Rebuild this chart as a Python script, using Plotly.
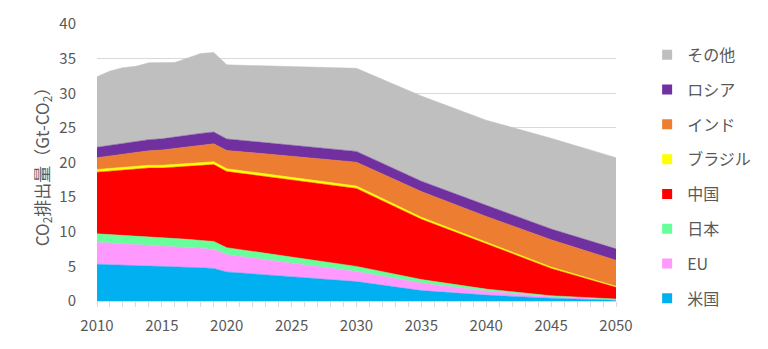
import plotly.graph_objects as go

years = [2010, 2011, 2012, 2013, 2014, 2015, 2016, 2017, 2018, 2019, 2020,
         2030, 2035, 2040, 2045, 2050]

# CO2 emissions by region (Gt-CO2), stacked bottom to top
us = [5.3, 5.25, 5.2, 5.15, 5.1, 5.0, 4.95, 4.9, 4.8, 4.7, 4.2, 2.8, 1.5, 0.85, 0.4, 0.12]
eu = [3.2, 3.15, 3.1, 3.05, 3.0, 2.95, 2.9, 2.85, 2.8, 2.75, 2.5, 1.45, 1.1, 0.6, 0.2, 0.1]
japan = [1.2, 1.2, 1.2, 1.2, 1.2, 1.15, 1.15, 1.15, 1.15, 1.15, 1.0, 0.75, 0.5, 0.27, 0.16, 0.06]
china = [8.9, 9.15, 9.4, 9.65, 9.9, 10.1, 10.35, 10.6, 10.85, 11.1, 11.0, 11.25, 8.7, 6.55, 3.94, 1.7]
brazil = [0.4, 0.4, 0.4, 0.4, 0.4, 0.4, 0.4, 0.4, 0.4, 0.4, 0.4, 0.35, 0.3, 0.25, 0.2, 0.15]
india = [1.7, 1.8, 1.9, 2.0, 2.1, 2.2, 2.3, 2.4, 2.5, 2.6, 2.65, 3.45, 3.7, 3.7, 3.95, 3.75]
russia = [1.5, 1.52, 1.55, 1.57, 1.6, 1.62, 1.65, 1.67, 1.7, 1.7, 1.65, 1.55, 1.5, 1.6, 1.55, 1.65]
others = [10.2, 10.73, 10.95, 10.88, 11.1, 10.98, 10.75, 11.13, 11.55, 11.5, 10.7,
          12.0, 12.3, 12.28, 13.1, 13.17]

series = [
    ("米国", us, "#00B0F0"),
    ("EU", eu, "#FF99FF"),
    ("日本", japan, "#66FF99"),
    ("中国", china, "#FF0000"),
    ("ブラジル", brazil, "#FFFF00"),
    ("インド", india, "#ED7D31"),
    ("ロシア", russia, "#7030A0"),
    ("その他", others, "#BFBFBF"),
]

FONT = "Noto Sans CJK JP, sans-serif"
TEXT = "#595959"
GRID = "#D9D9D9"

fig = go.Figure()

for name, vals, color in series:
    fig.add_trace(go.Scatter(
        x=years, y=vals, name=name, stackgroup="co2",
        mode="lines", line=dict(width=0.5, color=color),
        fillcolor=color, showlegend=False, hoverinfo="skip",
    ))

# square legend keys, listed top-down from その他 to 米国
for name, vals, color in reversed(series):
    fig.add_trace(go.Scatter(
        x=[None], y=[None], name=name, mode="markers",
        marker=dict(symbol="square", size=10, color=color),
        legendgroup=name, showlegend=True,
    ))

fig.update_layout(
    width=768, height=349,
    margin=dict(l=97, r=151, t=22, b=48),
    plot_bgcolor="white", paper_bgcolor="white",
    font=dict(family=FONT, size=15, color=TEXT),
    showlegend=True,
    legend=dict(
        x=1.06, xanchor="left", xref="paper", y=0.95, yanchor="top",
        traceorder="grouped", tracegroupgap=11,
        font=dict(family=FONT, size=16, color=TEXT),
        itemwidth=30, bgcolor="rgba(0,0,0,0)", maxheight=340,
    ),
    xaxis=dict(
        range=[2010, 2050], tickmode="linear", tick0=2010, dtick=5,
        ticks="outside", ticklen=5, tickcolor=GRID,
        minor=dict(dtick=1, ticks="outside", ticklen=5, tickcolor=GRID),
        showline=True, linecolor=GRID, linewidth=1,
        showgrid=False, zeroline=False,
        tickfont=dict(family=FONT, size=15, color=TEXT),
        ticklabelstandoff=6,
    ),
    yaxis=dict(
        range=[0, 40], tickmode="linear", tick0=0, dtick=5,
        showgrid=True, gridcolor=GRID, gridwidth=1,
        zeroline=False, showline=False, ticks="",
        tickfont=dict(family=FONT, size=15, color=TEXT),
        ticklabelstandoff=20,
        title=dict(text="CO<sub>2</sub>排出量（Gt-CO<sub>2</sub>）",
                   font=dict(family=FONT, size=17, color=TEXT), standoff=5),
    ),
)

fig.write_html("out.html")
